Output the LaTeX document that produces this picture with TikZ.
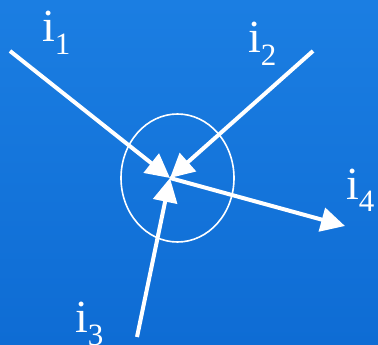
\documentclass[tikz,border=0pt]{standalone}
\usepackage{fontspec}
\setmainfont{Liberation Serif}
\usetikzlibrary{arrows.meta, shapes.geometric}
\definecolor{slideTop}{RGB}{27, 126, 226}
\definecolor{slideBottom}{RGB}{14, 108, 212}
\newcommand{\curr}[1]{{\fontsize{46}{50}\selectfont i}{\fontsize{31}{34}\selectfont\raisebox{-13pt}{#1}}}

\begin{document}
\begin{tikzpicture}[x=1pt, y=-1pt,
    cur/.style={white, line width=4pt, -{Triangle[length=24pt, width=24pt]}},
    lbl/.style={white, anchor=base west, inner sep=0pt}]
        \shade[top color=slideTop, bottom color=slideBottom] (0,0) rectangle (378,345);
        \useasboundingbox (0,0) rectangle (378,345);
        % Junction
        \node[ellipse, draw=white, line width=1.6pt, minimum width=113pt, minimum height=128pt, inner sep=0pt] (jn) at (177.5,178) {};
        \coordinate (O) at (170,178);
        \coordinate (s1) at (10,51);
        \coordinate (s2) at (313,51);
        \coordinate (s3) at (137,337);
        \coordinate (e4) at (345,226);
        \draw[cur] (s1) -- (O);
        \draw[cur] (s2) -- (O);
        \draw[cur] (s3) -- (O);
        \draw[cur] (O) -- (e4);
        % Labels
        \node[lbl] (l1) at (42,42) {\curr{1}};
        \node[lbl] (l2) at (248,53) {\curr{2}};
        \node[lbl] (l3) at (75,332) {\curr{3}};
        \node[lbl] (l4) at (346,199) {\curr{4}};
      \end{tikzpicture}
\end{document}
